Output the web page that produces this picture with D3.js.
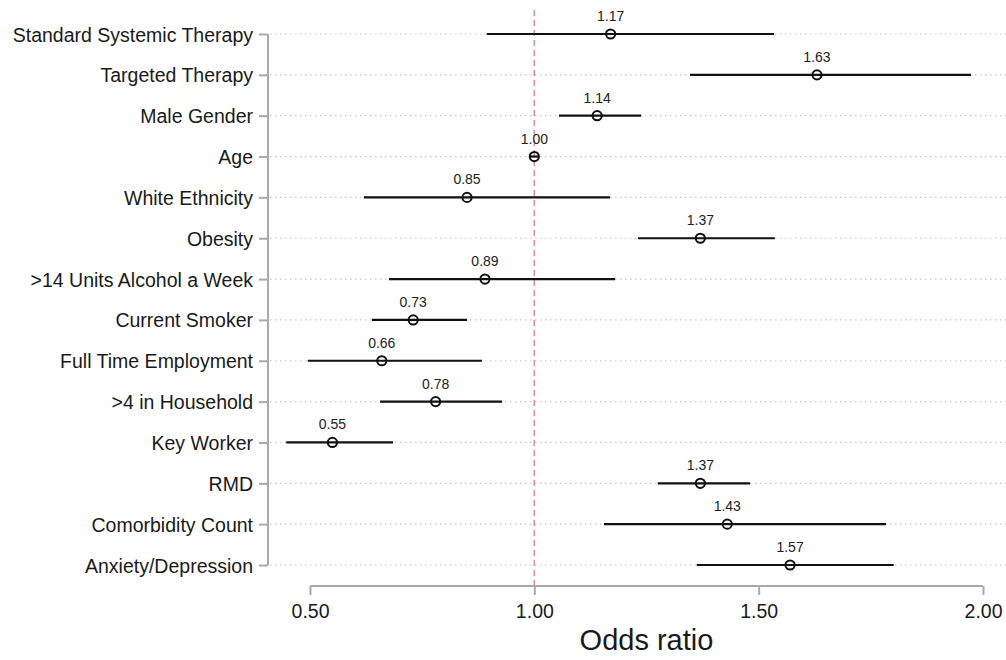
<!DOCTYPE html>
<html>
<head>
<meta charset="utf-8">
<script src="https://cdn.jsdelivr.net/npm/d3@7"></script>
<style>
  html, body { margin: 0; padding: 0; background: #fff; }
  svg { display: block; font-family: "Liberation Sans", Arial, sans-serif; }
</style>
</head>
<body>
<svg id="chart" width="1006" height="660"></svg>
<script>
const categories = [
  "Standard Systemic Therapy", "Targeted Therapy", "Male Gender", "Age",
  "White Ethnicity", "Obesity", ">14 Units Alcohol a Week", "Current Smoker",
  "Full Time Employment", ">4 in Household", "Key Worker", "RMD",
  "Comorbidity Count", "Anxiety/Depression"
];
const oddsRatio = [1.17, 1.63, 1.14, 1.00, 0.85, 1.37, 0.89, 0.73, 0.66, 0.78, 0.55, 1.37, 1.43, 1.57];
const lowerCI   = [0.894, 1.347, 1.055, 0.99, 0.620, 1.231, 0.676, 0.638, 0.495, 0.656, 0.447, 1.275, 1.155, 1.362];
const upperCI   = [1.534, 1.973, 1.238, 1.01, 1.169, 1.536, 1.180, 0.850, 0.883, 0.928, 0.685, 1.481, 1.784, 1.801];
const xTicks = [0.5, 1.0, 1.5, 2.0];
const referenceValue = 1.0;
const xLabel = "Odds ratio";

const svg = d3.select("#chart");
const x = d3.scaleLinear().domain([0.5, 2.0]).range([310, 983]);
const y = d3.scalePoint().domain(categories).range([34, 565]);
const axisX = 268;
const plotRight = 1006;

// gridlines
svg.append("g").selectAll("line").data(categories).join("line")
  .attr("x1", axisX + 2).attr("x2", plotRight)
  .attr("y1", d => y(d)).attr("y2", d => y(d))
  .attr("stroke", "#c8c8c8").attr("stroke-width", 1.2)
  .attr("stroke-dasharray", "1.5,3.5");

// reference line
svg.append("line")
  .attr("x1", x(referenceValue)).attr("x2", x(referenceValue))
  .attr("y1", 10).attr("y2", 585)
  .attr("stroke", "#d9909c").attr("stroke-width", 1.6)
  .attr("stroke-dasharray", "6,4");

// left axis
const yAxis = d3.axisLeft(y).tickSize(9).tickPadding(6);
const gy = svg.append("g").attr("transform", `translate(${axisX},0)`).call(yAxis);
gy.select(".domain").attr("d", `M0,${y(categories[0])}V${y(categories[categories.length-1])}`)
  .attr("stroke", "#aaaaaa").attr("stroke-width", 2);
gy.selectAll(".tick line").attr("stroke", "#aaaaaa").attr("stroke-width", 2);
gy.selectAll(".tick text").attr("font-size", 19.5).attr("fill", "#1a1a1a")
  .attr("font-family", "'Liberation Sans', Arial, sans-serif").attr("dy", "0.36em");

// bottom axis
const xAxis = d3.axisBottom(x).tickValues(xTicks).tickFormat(d3.format(".2f")).tickSize(9).tickPadding(9);
const gx = svg.append("g").attr("transform", `translate(0,586)`).call(xAxis);
gx.select(".domain").attr("d", `M${x(xTicks[0])},0H${x(xTicks[xTicks.length-1])}`)
  .attr("stroke", "#aaaaaa").attr("stroke-width", 2);
gx.selectAll(".tick line").attr("stroke", "#aaaaaa").attr("stroke-width", 2);
gx.selectAll(".tick text").attr("font-size", 19.5).attr("fill", "#1a1a1a")
  .attr("font-family", "'Liberation Sans', Arial, sans-serif");

svg.append("text")
  .attr("x", (x(0.5) + x(2.0)) / 2).attr("y", 650)
  .attr("text-anchor", "middle").attr("font-size", 29).attr("fill", "#1a1a1a")
  .text(xLabel);

const rows = categories.map((c, i) => ({ c, or: oddsRatio[i], lo: lowerCI[i], hi: upperCI[i] }));

// CI lines
svg.append("g").selectAll("line").data(rows).join("line")
  .attr("x1", d => x(d.lo)).attr("x2", d => x(d.hi))
  .attr("y1", d => y(d.c)).attr("y2", d => y(d.c))
  .attr("stroke", "#111").attr("stroke-width", 2.2);

// points
svg.append("g").selectAll("circle").data(rows).join("circle")
  .attr("cx", d => x(d.or)).attr("cy", d => y(d.c)).attr("r", 4.6)
  .attr("fill", "none").attr("stroke", "#111").attr("stroke-width", 2);

// value labels
svg.append("g").selectAll("text").data(rows).join("text")
  .attr("x", d => x(d.or)).attr("y", d => y(d.c) - 13)
  .attr("text-anchor", "middle").attr("font-size", 14).attr("fill", "#222")
  .text(d => d3.format(".2f")(d.or));
</script>
</body>
</html>
